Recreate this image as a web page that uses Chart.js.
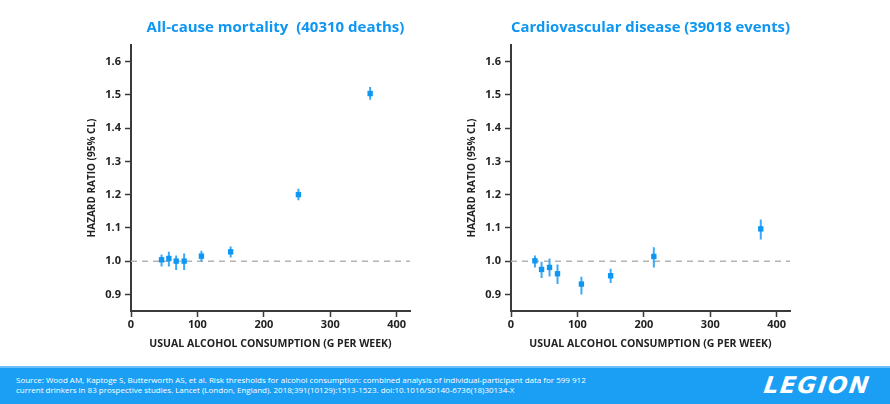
<!DOCTYPE html>
<html>
<head>
<meta charset="utf-8">
<script src="https://cdn.jsdelivr.net/npm/chart.js@4/dist/chart.umd.min.js"></script>
<style>
  html, body { margin: 0; padding: 0; background: #fff; }
  body { width: 890px; height: 404px; position: relative; overflow: hidden; font-family: "Open Sans", sans-serif; }
  canvas { position: absolute; top: 0; }
  #c1 { left: 0; }
  #c2 { left: 380px; }
  #footer { position: absolute; left: 0; top: 366px; width: 890px; height: 38px; background: #1a9ff5; border-top: 2px solid #6cc0f8; box-sizing: border-box; }
  #src { position: absolute; left: 16px; top: 7px; color: #fff; font-size: 8px; line-height: 10px; font-family: "Open Sans", sans-serif; }
  #logo { position: absolute; left: 764px; top: 4px; color: #fff; font-family: "DejaVu Sans", sans-serif; font-weight: 900; font-size: 23px; font-style: italic; letter-spacing: 1.6px; transform: skewX(-8deg); }
</style>
</head>
<body>
<canvas id="c1" width="445" height="362"></canvas>
<canvas id="c2" width="445" height="362"></canvas>
<div id="footer">
  <div id="src">Source: Wood AM, Kaptoge S, Butterworth AS, et al. Risk thresholds for alcohol consumption: combined analysis of individual-participant data for 599 912<br>current drinkers in 83 prospective studies. Lancet (London, England). 2018;391(10129):1513-1523. doi:10.1016/S0140-6736(18)30134-X</div>
  <div id="logo">LEGION</div>
</div>
<script>
// ---- data ----
const xTicks = [0, 100, 200, 300, 400];
const yTicks = [0.9, 1.0, 1.1, 1.2, 1.3, 1.4, 1.5, 1.6];
const refHR = 1.0;

const mortTitle = 'All-cause mortality  (40310 deaths)';
const mortX  = [46, 57, 68, 80, 106, 150, 252, 360];
const mortHR = [1.004, 1.008, 1.000, 1.000, 1.015, 1.028, 1.200, 1.504];
const mortLo = [0.984, 0.984, 0.973, 0.973, 0.999, 1.011, 1.183, 1.485];
const mortHi = [1.020, 1.028, 1.017, 1.023, 1.031, 1.044, 1.218, 1.524];

const cvdTitle = 'Cardiovascular disease (39018 events)';
const cvdX  = [36, 46, 58, 70, 106, 150, 215, 376];
const cvdHR = [1.001, 0.975, 0.981, 0.962, 0.931, 0.956, 1.014, 1.097];
const cvdLo = [0.981, 0.949, 0.954, 0.931, 0.900, 0.934, 0.981, 1.065];
const cvdHi = [1.017, 0.998, 1.008, 0.990, 0.953, 0.977, 1.042, 1.125];

const xTitle = 'USUAL ALCOHOL CONSUMPTION (G PER WEEK)';
const yTitle = 'HAZARD RATIO (95% CL)';

// ---- chart ----
const BLUE = '#0d96f2';
const BAR = '#3aaaf5';
const AXIS = '#3a3a3a';
const TXT = '#222222';

function makeChart(id, title, xs, hr, lo, hi, shift) {
  const markers = xs.map((x, i) => ({ x: x, y: hr[i] }));
  const bars = [];
  xs.forEach((x, i) => { bars.push({ x: x, y: lo[i] }, { x: x, y: hi[i] }, { x: x, y: null }); });
  const ref = [{ x: 0, y: refHR }, { x: 420, y: refHR }];
  const titleShift = {
    id: 'titleShift',
    afterLayout(chart) {
      const tb = chart.titleBlock;
      if (tb) { tb.left += shift; tb.right += shift; }
    }
  };
  return new Chart(document.getElementById(id), {
    type: 'scatter',
    data: {
      datasets: [
        { data: markers, pointStyle: 'rect', pointRadius: 3.8, backgroundColor: BLUE, borderColor: BLUE, borderWidth: 0, showLine: false },
        { data: bars, showLine: true, spanGaps: false, pointRadius: 0, borderColor: BAR, borderWidth: 2 },
        { data: ref, showLine: true, pointRadius: 0, borderColor: '#b3b3b3', borderWidth: 1.5, borderDash: [6, 5] }
      ]
    },
    plugins: [titleShift],
    options: {
      responsive: false,
      animation: false,
      devicePixelRatio: 1,
      layout: { padding: { left: 80, right: 35, top: 0, bottom: 0 } },
      plugins: {
        legend: { display: false },
        tooltip: { enabled: false },
        title: {
          display: true, text: title, fullSize: false, color: BLUE,
          font: { family: 'Open Sans', size: 15, weight: 'bold' },
          padding: { top: 19, bottom: 8 }
        }
      },
      scales: {
        x: {
          type: 'linear', min: 0, max: 420,
          afterBuildTicks: (ax) => { ax.ticks = xTicks.map(v => ({ value: v })); },
          afterFit: (ax) => { ax.height = 51; },
          grid: { display: true, drawOnChartArea: false, drawTicks: true, tickLength: 6, tickColor: AXIS, tickWidth: 1.5 },
          border: { display: true, color: AXIS, width: 2 },
          ticks: { color: TXT, font: { family: 'Open Sans', size: 11, weight: 'bold' }, padding: 1, maxRotation: 0 },
          title: { display: true, text: xTitle, color: TXT, font: { family: 'Open Sans', size: 10.5, weight: 'bold' }, padding: { top: 4, bottom: 12 } }
        },
        y: {
          type: 'linear', min: 0.85, max: 1.65,
          afterBuildTicks: (ax) => { ax.ticks = yTicks.map(v => ({ value: v })); },
          afterFit: (ax) => { ax.width = 51; },
          grid: { display: true, drawOnChartArea: false, drawTicks: true, tickLength: 6, tickColor: AXIS, tickWidth: 1.5 },
          border: { display: true, color: AXIS, width: 2 },
          ticks: { color: TXT, font: { family: 'Open Sans', size: 11, weight: 'bold' }, padding: 4, callback: (v) => Number(v).toFixed(1) },
          title: { display: true, text: yTitle, color: TXT, font: { family: 'Open Sans', size: 10, weight: 'bold' }, padding: { top: 6, bottom: 0 } }
        }
      }
    }
  });
}

makeChart('c1', mortTitle, mortX, mortHR, mortLo, mortHi, 5);
makeChart('c2', cvdTitle, cvdX, cvdHR, cvdLo, cvdHi, 0);
</script>
</body>
</html>
